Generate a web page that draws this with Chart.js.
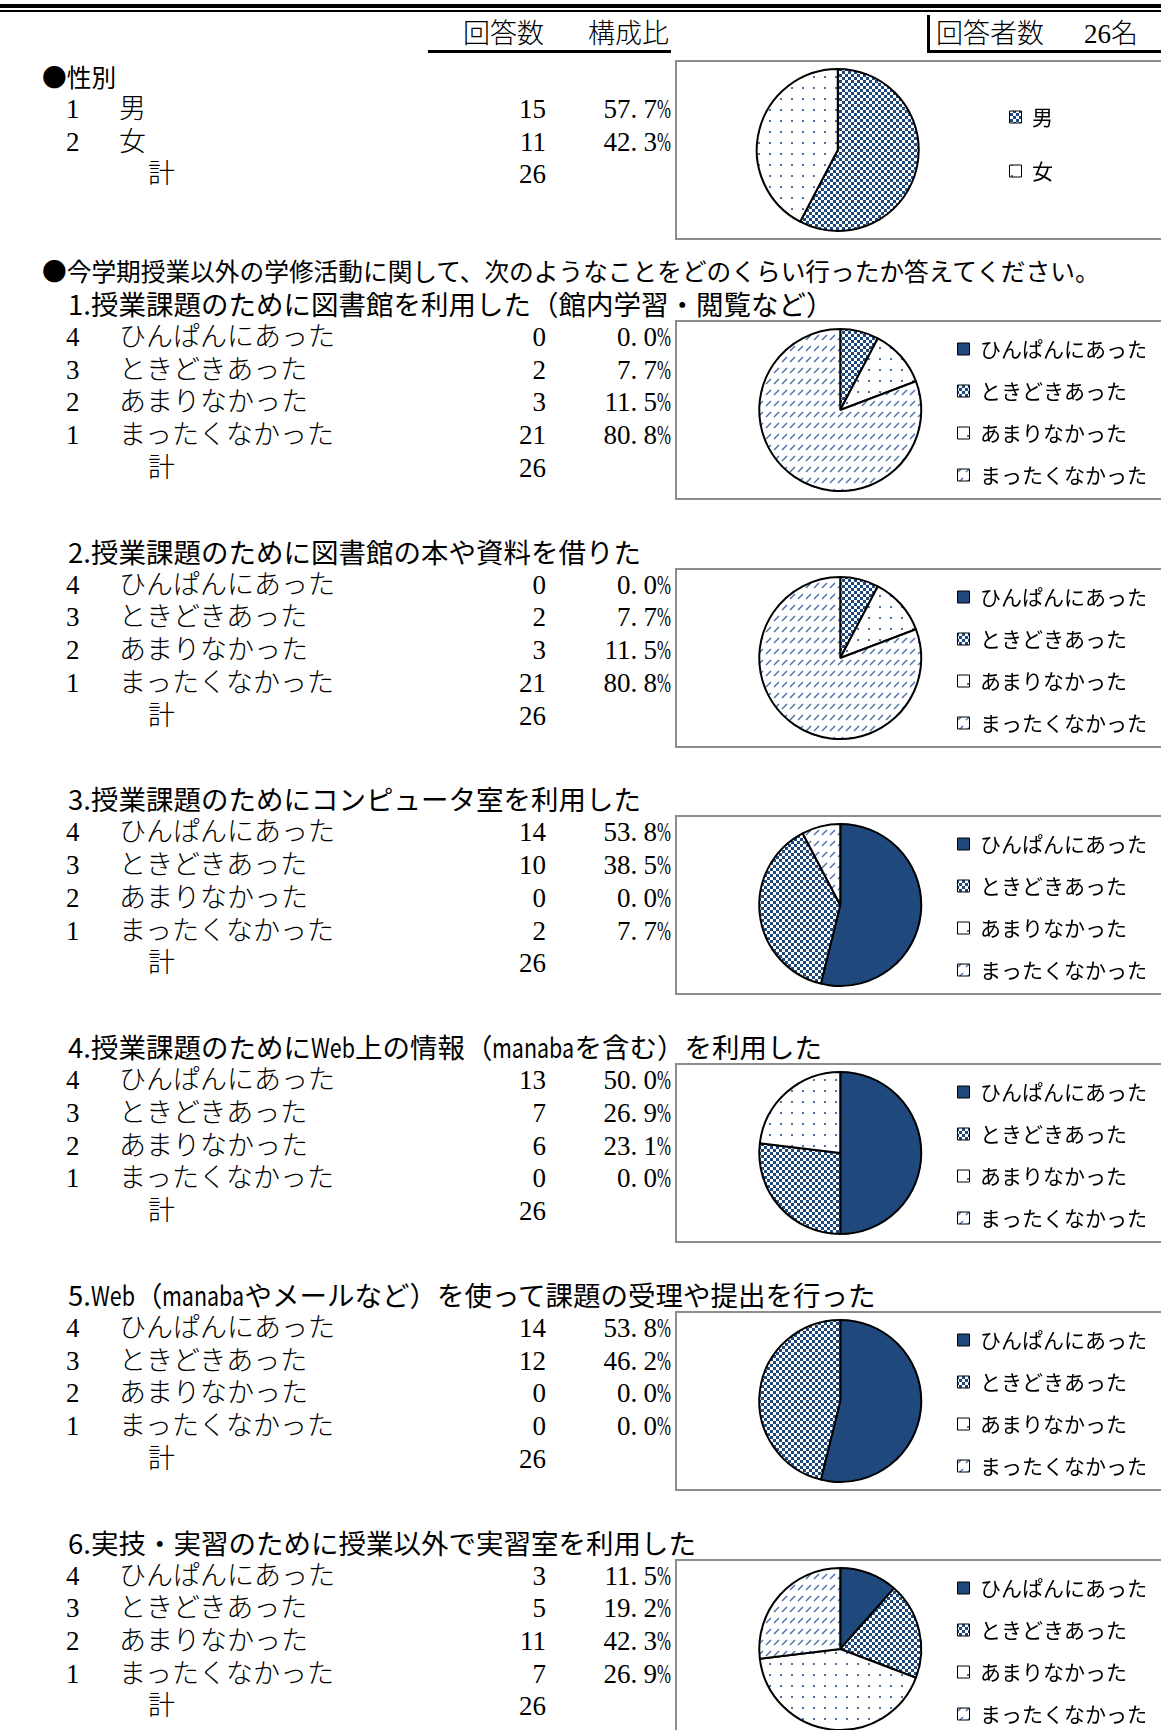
<!DOCTYPE html>
<html lang="ja">
<head>
<meta charset="utf-8">
<title>学修活動アンケート</title>
<script src="https://cdn.jsdelivr.net/npm/chart.js@4.4.1/dist/chart.umd.min.js"></script>
<style>
html,body{margin:0;padding:0;background:#fff;}
#page{position:relative;width:1161px;height:1730px;overflow:hidden;background:#fff;}
.t{position:absolute;white-space:nowrap;height:32px;line-height:32px;color:#000;}
.mincho{font-family:"Liberation Serif","Noto Sans CJK JP",serif;font-size:27px;font-weight:300;}
.gothic{font-family:"Noto Sans CJK JP",sans-serif;font-size:27.5px;}
.gothic.lead{font-size:24.7px;}
.hw{display:inline-block;transform-origin:left center;}
.dot{display:inline-block;width:13px;}
.pc{display:inline-block;width:14px;transform:scaleX(.62);transform-origin:left center;}
.bar{position:absolute;background:#000;}
.box{position:absolute;left:675px;width:520px;height:176px;border:2px solid #8c8c8c;}
.box canvas{position:absolute;left:0;top:-12px;}
</style>
</head>
<body>
<div id="page"></div>
<script>
/* ── data ───────────────────────────── */
const GENDER_CODES  = ['1','2'];
const GENDER_LABELS = ['男','女'];
const GENDER_COUNTS = [15, 11];
const GENDER_PCTS   = ['57.7%','42.3%'];
const GENDER_TOTAL  = 26;

const FREQ_CODES  = ['4','3','2','1'];
const FREQ_LABELS = ['ひんぱんにあった','ときどきあった','あまりなかった','まったくなかった'];

const Q_TITLES = [
  '1.授業課題のために図書館を利用した（館内学習・閲覧など）',
  '2.授業課題のために図書館の本や資料を借りた',
  '3.授業課題のためにコンピュータ室を利用した',
  '4.授業課題のためにWeb上の情報（manabaを含む）を利用した',
  '5.Web（manabaやメールなど）を使って課題の受理や提出を行った',
  '6.実技・実習のために授業以外で実習室を利用した'
];
const Q1_COUNTS = [0, 2, 3, 21];  const Q1_PCTS = ['0.0%','7.7%','11.5%','80.8%'];
const Q2_COUNTS = [0, 2, 3, 21];  const Q2_PCTS = ['0.0%','7.7%','11.5%','80.8%'];
const Q3_COUNTS = [14, 10, 0, 2]; const Q3_PCTS = ['53.8%','38.5%','0.0%','7.7%'];
const Q4_COUNTS = [13, 7, 6, 0];  const Q4_PCTS = ['50.0%','26.9%','23.1%','0.0%'];
const Q5_COUNTS = [14, 12, 0, 0]; const Q5_PCTS = ['53.8%','46.2%','0.0%','0.0%'];
const Q6_COUNTS = [3, 5, 11, 7];  const Q6_PCTS = ['11.5%','19.2%','42.3%','26.9%'];
const Q_TOTALS  = [26, 26, 26, 26, 26, 26];
const RESPONDENTS = 26;

const QUESTIONS = [
  [Q1_COUNTS, Q1_PCTS], [Q2_COUNTS, Q2_PCTS], [Q3_COUNTS, Q3_PCTS],
  [Q4_COUNTS, Q4_PCTS], [Q5_COUNTS, Q5_PCTS], [Q6_COUNTS, Q6_PCTS]
];

/* ── helpers ────────────────────────── */
const NAVY = '#1F497D';
const page = document.getElementById('page');

function put(html, x, cy, cls, align) {
  const d = document.createElement('div');
  d.className = 't ' + cls;
  d.innerHTML = html;
  d.style.top = (cy - 16) + 'px';
  if (align === 'right') d.style.right = (1161 - x) + 'px';
  else d.style.left = x + 'px';
  page.appendChild(d);
  return d;
}
function bar(x, y, w, h) {
  const d = document.createElement('div');
  d.className = 'bar';
  Object.assign(d.style, { left:x+'px', top:y+'px', width:w+'px', height:h+'px' });
  page.appendChild(d);
}
const pctHTML = s => s.replace('.', '<span class="dot">.</span>').replace('%', '<span class="pc">%</span>');
const latinHTML = s => s.replace(/[A-Za-z]+/g, m => '<span class="hw">' + m + '</span>');

// squeeze latin runs to half-width, like the original gothic face
function condense(el, k) {
  el.querySelectorAll('.hw').forEach(sp => {
    const w = sp.getBoundingClientRect().width;
    sp.style.width = (w * k) + 'px';
    sp.style.transform = 'scaleX(' + k + ')';
  });
}

function makePattern(kind) {
  const c = document.createElement('canvas');
  const g = c.getContext('2d');
  if (kind === 'checker') {
    c.width = c.height = 6;
    g.fillStyle = '#fff'; g.fillRect(0,0,6,6);
    g.fillStyle = NAVY; g.fillRect(0,0,3,3); g.fillRect(3,3,3,3);
  } else if (kind === 'dots') {
    c.width = c.height = 11;
    g.fillStyle = '#fff'; g.fillRect(0,0,11,11);
    g.fillStyle = '#4f72a6'; g.fillRect(4,4,2,2);
  } else {
    c.width = 8; c.height = 11;
    g.fillStyle = '#fff'; g.fillRect(0,0,8,11);
    g.strokeStyle = '#4d70a6'; g.lineWidth = 1.5;
    g.beginPath(); g.moveTo(1,8); g.lineTo(6,3); g.stroke();
  }
  return g.createPattern(c, 'repeat');
}
const CHECK = makePattern('checker'), DOTS = makePattern('dots'), DIAG = makePattern('diag');

// shift the legend column without moving the pie
const nudgeLegend = {
  id: 'nudgeLegend',
  afterLayout(chart, args, opts) {
    const l = chart.legend;
    if (!l) return;
    if (opts.dy) { l.top += opts.dy; l.bottom += opts.dy; }
    if (opts.dx) { l.left += opts.dx; l.right += opts.dx; }
  }
};

function pieBox(top, labels, counts, fills, cfg) {
  const box = document.createElement('div');
  box.className = 'box';
  box.style.top = top + 'px';
  const cv = document.createElement('canvas');
  cv.width = 484; cv.height = 200;
  box.appendChild(cv);
  page.appendChild(box);
  const baseGen = Chart.overrides.doughnut.plugins.legend.labels.generateLabels;
  return new Chart(cv, {
    type: 'pie',
    data: { labels: labels, datasets: [{ data: counts, backgroundColor: fills, borderColor: '#000', borderWidth: 2, radius: 81 }] },
    options: {
      responsive: false, animation: false, events: [],
      layout: { padding: { left: cfg.padL, right: cfg.padR, top: 0, bottom: 0 } },
      plugins: {
        tooltip: { enabled: false },
        nudgeLegend: { dx: cfg.dx, dy: cfg.dy },
        legend: {
          position: 'right', align: 'center',
          labels: {
            boxWidth: 12, boxHeight: 12, padding: cfg.gap, color: '#000',
            font: { family: 'Noto Sans CJK JP', size: 21 },
            generateLabels: ch => baseGen(ch).map(it => Object.assign(it, { lineWidth: 1, strokeStyle: '#000' }))
          }
        }
      }
    },
    plugins: [nudgeLegend]
  });
}

function tableRows(firstY, codes, labels, counts, pcts, total) {
  codes.forEach((c, i) => {
    const y = firstY + i * 32.7;
    put(c, 66, y, 'mincho');
    put(labels[i], 119, y, 'mincho');
    put(String(counts[i]), 546, y, 'mincho', 'right');
    put(pctHTML(pcts[i]), 671, y, 'mincho', 'right');
  });
  const ty = firstY + codes.length * 32.7;
  put('計', 148, ty, 'mincho');
  put(String(total), 546, ty, 'mincho', 'right');
}

/* ── header ─────────────────────────── */
bar(0, 4, 1161, 4);
bar(0, 10, 1161, 2);
put('回答数', 463, 34, 'mincho');
put('構成比', 588, 34, 'mincho');
bar(428, 50, 243, 3);
bar(927, 15, 3, 38);
bar(927, 50, 234, 3);
put('回答者数', 936, 34, 'mincho');
put(RESPONDENTS + '名', 1138, 34, 'mincho', 'right');

/* ── gender ─────────────────────────── */
put('●性別', 42, 76, 'gothic lead');
tableRows(109, GENDER_CODES, GENDER_LABELS, GENDER_COUNTS, GENDER_PCTS, GENDER_TOTAL);
pieBox(60, GENDER_LABELS, GENDER_COUNTS, [CHECK, DOTS], { padL: 22, padR: 98, gap: 33, dx: 0, dy: -6 });

/* ── questions ──────────────────────── */
put('●今学期授業以外の学修活動に関して、次のようなことをどのくらい行ったか答えてください。', 42, 270, 'gothic lead');
QUESTIONS.forEach(([counts, pcts], k) => {
  const hy = 303 + k * 247.7;
  condense(put(latinHTML(Q_TITLES[k]), 68, hy, 'gothic'), 0.78);
  tableRows(hy + 34, FREQ_CODES, FREQ_LABELS, counts, pcts, Q_TOTALS[k]);
  pieBox(Math.round(hy + 17), FREQ_LABELS, counts, [NAVY, CHECK, DOTS, DIAG], { padL: 59, padR: 8, gap: 21, dx: -8, dy: 2 });
});
</script>
</body>
</html>
